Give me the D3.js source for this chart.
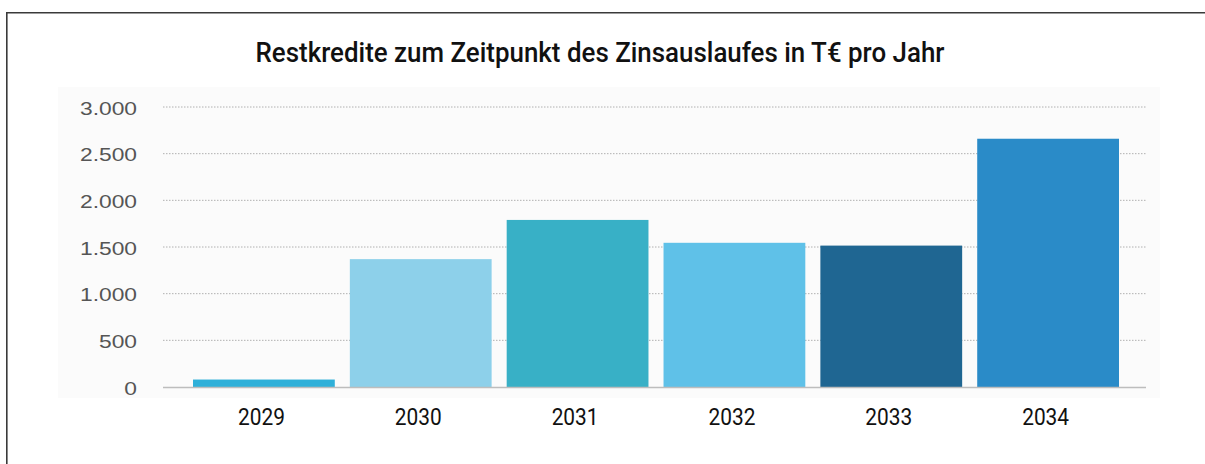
<!DOCTYPE html>
<html>
<head>
<meta charset="utf-8">
<script src="https://cdn.jsdelivr.net/npm/d3@7"></script>
<style>
  body { margin: 0; background: #fff; overflow: hidden; }
  svg { display: block; }
</style>
</head>
<body>
<script>
const title = 'Restkredite zum Zeitpunkt des Zinsauslaufes in T€ pro Jahr';
const years = ['2029', '2030', '2031', '2032', '2033', '2034'];
const values = [80, 1370, 1790, 1545, 1515, 2660];
const barColors = ['#2fb0d9', '#8dd0ea', '#38b0c6', '#5fc1e8', '#1f6692', '#2a8bc8'];
const yTicks = [0, 500, 1000, 1500, 2000, 2500, 3000];

var width = 1205,
    height = 464;

var svg = d3.select('body').append('svg')
    .attr('width', width)
    .attr('height', height);

// frame (only top and left edges are inside the picture)
svg.append('path')
    .attr('d', 'M6.8,470 V12.8 H1210')
    .attr('fill', 'none')
    .attr('stroke', '#3a3a3a')
    .attr('stroke-width', 1.6);

// faint plot background
svg.append('rect')
    .attr('x', 58).attr('y', 87)
    .attr('width', 1102).attr('height', 311)
    .attr('fill', '#fbfbfb');

svg.append('text')
    .attr('transform', 'translate(600,62) scale(0.925,1)')
    .attr('text-anchor', 'middle')
    .attr('font-family', 'Roboto')
    .attr('font-weight', 500)
    .attr('font-size', 28)
    .attr('fill', '#111')
    .text(title);

var xScale = d3.scaleBand()
    .domain(years)
    .range([193, 1119])
    .paddingInner(0.096)
    .paddingOuter(0);

var yScale = d3.scaleLinear()
    .domain([0, 3000])
    .range([387, 107]);

// gridlines
svg.append('g')
    .selectAll('line')
    .data(yTicks.filter(t => t > 0))
    .enter()
    .append('line')
    .attr('x1', 163).attr('x2', 1147)
    .attr('y1', d => yScale(d)).attr('y2', d => yScale(d))
    .attr('stroke', '#b0b0b0')
    .attr('stroke-width', 1)
    .attr('stroke-dasharray', '1.5,1.5');

svg.append('g')
    .selectAll('rect')
    .data(values)
    .enter()
    .append('rect')
    .attr('x', (d, i) => xScale(years[i]))
    .attr('y', d => yScale(d))
    .attr('width', xScale.bandwidth())
    .attr('height', d => yScale(0) - yScale(d))
    .attr('fill', (d, i) => barColors[i]);

// baseline
svg.append('line')
    .attr('x1', 163).attr('x2', 1146)
    .attr('y1', yScale(0) + 0.5).attr('y2', yScale(0) + 0.5)
    .attr('stroke', '#bdbdbd')
    .attr('stroke-width', 1.5);

var yAxis = d3.axisLeft(yScale)
    .tickValues(yTicks)
    .tickSize(0)
    .tickPadding(0)
    .tickFormat(d => d3.format(',')(d).replace(/,/g, '.'));

var yAxisGroup = svg.append('g')
    .attr('transform', 'translate(137,1)')
    .call(yAxis);
yAxisGroup.select('.domain').remove();
yAxisGroup.selectAll('text')
    .attr('font-family', 'Liberation Sans')
    .attr('font-size', 19)
    .attr('fill', '#555')
    .attr('transform', 'scale(1.2,1)');

var xAxis = d3.axisBottom(xScale).tickSize(0).tickPadding(0);
var xAxisGroup = svg.append('g')
    .attr('transform', 'translate(-2.5,0)')
    .call(xAxis);
xAxisGroup.select('.domain').remove();
xAxisGroup.selectAll('text')
    .attr('y', 425.5)
    .attr('dy', null)
    .attr('font-family', 'Roboto')
    .attr('font-size', 24)
    .attr('fill', '#111')
    .attr('transform', 'scale(0.87,1)');
</script>
</body>
</html>
